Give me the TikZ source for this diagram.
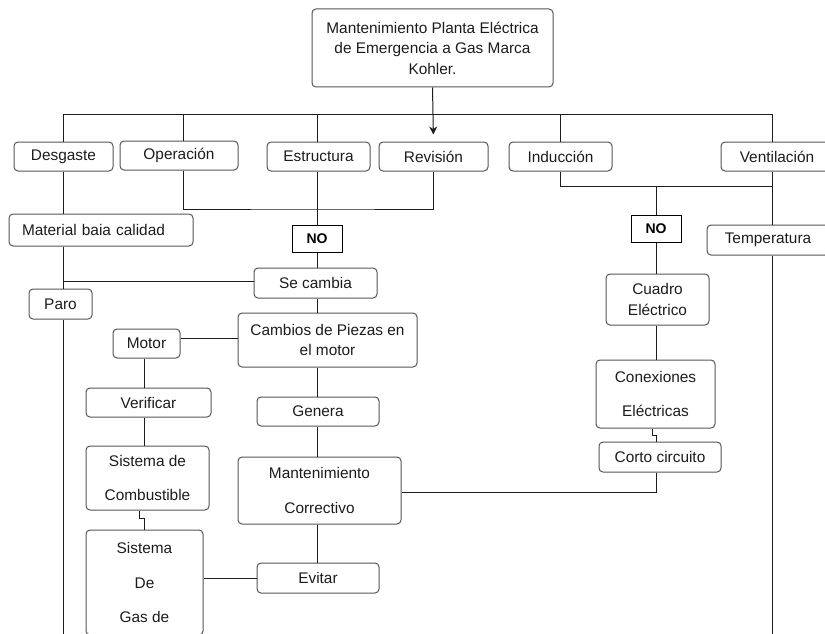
\documentclass[tikz,border=0pt]{standalone}
\usepackage{fontspec}
\setmainfont{Liberation Sans}
\usetikzlibrary{arrows,arrows.meta,positioning}
\usepackage{xcolor}
\definecolor{boxgray}{RGB}{85,85,85}
\definecolor{inkgray}{RGB}{28,28,28}

\begin{document}
\begin{tikzpicture}[x=1pt,y=-1pt,>={Stealth[length=8pt,width=8pt]},line width=1pt,draw=inkgray]
  \tikzstyle{box}=[draw=boxgray,rounded corners=4pt,inner sep=0pt,align=center,text=inkgray,font=\fontsize{15.4}{20.5}\selectfont]
  \tikzstyle{wide}=[font=\fontsize{15.4}{34.5}\selectfont]
  \tikzstyle{nobox}=[draw=black,inner sep=0pt,font=\fontsize{14}{16}\selectfont\bfseries]
  \tikzset{sz/.style 2 args={minimum width=#1pt,minimum height=#2pt}}

  \useasboundingbox (0,0) rectangle (825,634);
  \clip (0,0) rectangle (825,634);

  % top
  \node[box,sz={241}{78}]  (title)  at (432.5,48)  {Mantenimiento Planta Eléctrica\\de Emergencia a Gas Marca\\Kohler.};

  % first row
  \node[box,sz={99}{29}]   (desg)   at (63.5,156.5)  {Desgaste};
  \node[box,sz={118}{29}]  (oper)   at (179,155.5)   {Operación};
  \node[box,sz={103}{29}]  (estr)   at (318.5,156.5) {Estructura};
  \node[box,sz={109}{29}]  (revi)   at (433.5,156.5) {Revisión};
  \node[box,sz={103}{29}]  (indu)   at (560.5,156.5) {Inducción};
  \node[box,sz={112}{29}]  (vent)   at (777,156.5)   {Ventilación};

  % left column
  \node[box,sz={184}{32},text width=158pt,inner xsep=13pt,align=left] (mat) at (101,230) {Material baia calidad};
  \node[box,sz={63}{30}]   (paro)   at (60.5,304)    {Paro};
  \node[box,sz={67}{29}]   (motor)  at (146.5,343.5) {Motor};
  \node[box,sz={125}{29}]  (verif)  at (148.5,402.5) {Verificar};
  \node[box,wide,sz={123}{64}]  (combus) at (147.5,478) {Sistema de\\Combustible};
  \node[box,wide,sz={117}{105}] (gas)    at (144.5,582.5) {Sistema\\De\\Gas de};

  % centre column
  \node[nobox,sz={50}{27}] (noA)    at (317,238.5)   {NO};
  \node[box,sz={123}{30}]  (secam)  at (315.5,283)   {Se cambia};
  \node[box,sz={179}{54}]  (cambios) at (327.5,340)  {Cambios de Piezas en\\el motor};
  \node[box,sz={122}{29}]  (genera) at (318,411.5)   {Genera};
  \node[box,wide,sz={163}{67}] (mantc) at (319.5,490.5) {Mantenimiento\\Correctivo};
  \node[box,sz={122}{30}]  (evitar) at (318,578)     {Evitar};

  % right column
  \node[nobox,sz={50}{27}] (noB)    at (656,228.5)   {NO};
  \node[box,sz={122}{30}]  (temp)   at (768,240)     {Temperatura};
  \node[box,sz={103}{51}]  (cuadro) at (657.5,299.5) {Cuadro\\Eléctrico};
  \node[box,wide,sz={119}{68}] (conex) at (655.5,394) {Conexiones\\Eléctricas};
  \node[box,sz={122}{30}]  (corto)  at (660,457)     {Corto circuito};

  % guide points
  \coordinate (busL)   at (63,114);
  \coordinate (busR)   at (772,114);
  \coordinate (colL)   at (63,0);
  \coordinate (colC)   at (317,0);
  \coordinate (colR)   at (656,0);
  \coordinate (colV)   at (772,0);
  \coordinate (orjoin) at (317,209);
  \coordinate (injoin) at (656,186);
  \coordinate (bottom) at (0,640);

  % connectors
  \draw (busL) -- (busR);
  \draw[->,shorten >=7pt] (title.south) -- (revi.north);
  \draw (colL |- desg.north) -- (busL);
  \draw ([xshift=4pt]oper.north) -- ([xshift=4pt]oper.north |- busL);
  \draw (colC |- estr.north) -- (colC |- busL);
  \draw (indu.north) -- (indu.north |- busL);
  \draw (colV |- vent.north) -- (busR);

  \draw ([xshift=4pt]oper.south) |- (orjoin) -| (revi.south);
  \draw (colC |- estr.south) -- (noA.north);
  \draw (noA.south) -- (colC |- secam.north);
  \draw (colC |- secam.south) -- (colC |- cambios.north);
  \draw (colC |- cambios.south) -- (colC |- genera.north);
  \draw (colC |- genera.south) -- (colC |- mantc.north);
  \draw (colC |- mantc.south) -- (colC |- evitar.north);
  \draw (evitar.west) -- (evitar.west -| gas.east);

  \draw (colL |- desg.south) -- (colL |- mat.north);
  \draw (colL |- mat.south) -- (colL |- paro.north);
  \draw ([yshift=2pt]secam.west) -- ([yshift=2pt]colL |- secam.west);
  \draw (colL |- paro.south) -- (colL |- bottom);

  \draw ([yshift=2pt]cambios.west) -- ([yshift=2pt]cambios.west -| motor.east);
  \draw ([xshift=-2pt]motor.south) -- ([xshift=-2pt]motor.south |- verif.north);
  \draw ([xshift=-2pt]motor.south |- verif.south) -- ([xshift=-2pt]motor.south |- combus.north);
  \draw ([xshift=-8pt]combus.south) -- ++(0,8) -| (gas.north);

  \draw (indu.south) |- (colV |- injoin);
  \draw (colV |- vent.south) -- (colV |- temp.north);
  \draw (colV |- temp.south) -- (colV |- bottom);
  \draw (injoin) -- (noB.north);
  \draw (noB.south) -- (colR |- cuadro.north);
  \draw (colR |- cuadro.south) -- (colR |- conex.north);
  \draw ([xshift=-3.5pt]colR |- conex.south) -- ++(0,7) -| (colR |- corto.north);
  \draw (colR |- corto.south) |- ([yshift=-1.5pt]mantc.east);
\end{tikzpicture}
\end{document}
